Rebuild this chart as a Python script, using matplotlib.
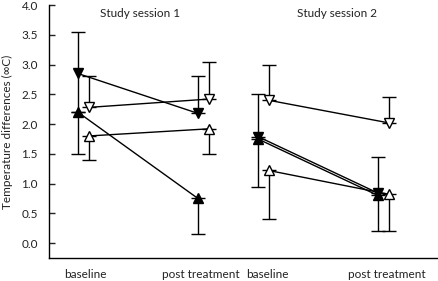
import matplotlib
matplotlib.use("Agg")
import matplotlib.pyplot as plt
import numpy as np

plt.rcParams['font.family'] = ['Lato', 'DejaVu Sans']

# x positions (baseline, post) for each session
session_x = [[0.0, 2.0], [3.0, 5.0]]
open_offset = 0.18

tick_positions = [0.12, 2.05, 3.15, 5.15]
tick_labels = ["baseline", "post treatment", "baseline", "post treatment"]
session_titles = ["Study session 1", "Study session 2"]

# series: values per session [baseline, post]
filled_down = [[2.85, 2.18], [1.79, 0.84]]
filled_down_lo = [[0.65, 0.0], [0.0, 0.0]]
filled_down_hi = [[0.70, 0.62], [0.71, 0.61]]

filled_up = [[2.20, 0.75], [1.75, 0.80]]
filled_up_lo = [[0.70, 0.60], [0.80, 0.60]]
filled_up_hi = [[0.0, 0.0], [0.0, 0.0]]

open_down = [[2.28, 2.42], [2.40, 2.02]]
open_down_lo = [[0.0, 0.0], [0.0, 0.0]]
open_down_hi = [[0.52, 0.63], [0.60, 0.43]]

open_up = [[1.80, 1.92], [1.22, 0.82]]
open_up_lo = [[0.40, 0.42], [0.82, 0.62]]
open_up_hi = [[0.0, 0.0], [0.0, 0.0]]

series = [
    (filled_down, filled_down_lo, filled_down_hi, 'v', 'black', 0.0),
    (filled_up, filled_up_lo, filled_up_hi, '^', 'black', 0.0),
    (open_down, open_down_lo, open_down_hi, 'v', 'white', open_offset),
    (open_up, open_up_lo, open_up_hi, '^', 'white', open_offset),
]

fig = plt.figure(figsize=(4.38, 2.81), dpi=100)
ax = fig.add_axes([0.112, 0.082, 0.888, 0.900])

for vals, lo, hi, mk, fc, off in series:
    for s in range(2):
        xs = [x + off for x in session_x[s]]
        ys = vals[s]
        ax.errorbar(xs, ys, yerr=[lo[s], hi[s]], fmt='none', ecolor='black',
                    elinewidth=1.0, capsize=5, capthick=1.0, zorder=2)
        ax.plot(xs, ys, color='black', linewidth=1.0, zorder=3)
        ax.plot(xs, ys, linestyle='none', marker=mk, markersize=7,
                markerfacecolor=fc, markeredgecolor='black', markeredgewidth=1.0, zorder=4)

ax.set_xlim(-0.48, 6.0)
ax.set_ylim(-0.25, 4.0)
ax.set_yticks(np.arange(0, 4.01, 0.5))
ax.set_yticklabels([f"{v:.1f}" for v in np.arange(0, 4.01, 0.5)])
ax.set_xticks(tick_positions)
ax.set_xticklabels(tick_labels)
ax.tick_params(axis='y', direction='in', length=4, width=1, pad=8, labelsize=8.5, colors='#222222')
ax.tick_params(axis='x', length=0, pad=8, labelsize=8.5, colors='#222222')
for sp in ['top', 'right']:
    ax.spines[sp].set_visible(False)
for sp in ['left', 'bottom']:
    ax.spines[sp].set_linewidth(1.0)

ax.text(1.03, 3.85, session_titles[0], ha='center', va='center', fontsize=8.5, color='#222222')
ax.text(4.32, 3.85, session_titles[1], ha='center', va='center', fontsize=8.5, color='#222222')

ax.set_ylabel("Temperature differences (∞C)", fontsize=8.5, color='#222222', labelpad=6)

fig.savefig("out.png", dpi=100)
